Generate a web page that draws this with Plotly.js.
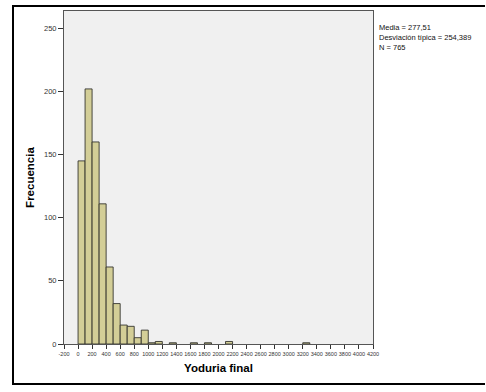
<!DOCTYPE html>
<html>
<head>
<meta charset="utf-8">
<script src="https://cdn.plot.ly/plotly-3.0.1.min.js"></script>
<style>
  html, body { margin: 0; padding: 0; background: #ffffff; }
  #wrap { position: relative; width: 486px; height: 392px; }
  #chart { width: 486px; height: 392px; }
  #frame {
    position: absolute; left: 12px; top: 5px; width: 471px; height: 376px;
    border-left: 2px solid #000; border-top: 2px solid #000; border-bottom: 2px solid #000;
    pointer-events: none;
  }
</style>
</head>
<body>
<div id="wrap">
  <div id="chart"></div>
  <div id="frame"></div>
</div>
<script>
// Histogram of final ioduria: bin lower edges (width 100) and counts
const binStarts = [0, 100, 200, 300, 400, 500, 600, 700, 800, 900, 1000, 1100, 1300, 1600, 1800, 2100, 3200];
const counts    = [145, 202, 160, 111, 61, 32, 15, 14, 5, 11, 1, 2, 1, 1, 1, 2, 1];
const binWidth = 100;

const xTicks = [-200, 0, 200, 400, 600, 800, 1000, 1200, 1400, 1600, 1800, 2000, 2200,
                2400, 2600, 2800, 3000, 3200, 3400, 3600, 3800, 4000, 4200];
const yTicks = [0, 50, 100, 150, 200, 250];

const statsLines = ["Media = 277,51", "Desviación típica = 254,389", "N = 765"];

const trace = {
  type: 'bar',
  x: binStarts,
  y: counts,
  width: binWidth,
  offset: 0,
  marker: {
    color: '#d3ce97',
    line: { color: 'rgba(45,45,40,0.85)', width: 1 }
  },
  hoverinfo: 'x+y'
};

// Summary statistics, one block to the right of the plot area
const annotations = [{
  text: statsLines.join('<br>'),
  xref: 'paper', yref: 'paper',
  x: 1.016, y: 0.92,
  xanchor: 'left', yanchor: 'middle', align: 'left',
  borderpad: 0,
  showarrow: false,
  font: { family: 'Liberation Sans, Arial, sans-serif', size: 7.5, color: '#111' }
}];

const layout = {
  width: 486, height: 392,
  margin: { l: 64, r: 113, t: 11, b: 48 },
  paper_bgcolor: '#ffffff',
  plot_bgcolor: '#f0f0f0',
  showlegend: false,
  bargap: 0,
  xaxis: {
    range: [-200, 4200],
    tickvals: xTicks,
    ticktext: xTicks.map(String),
    ticks: 'outside', ticklen: 4, tickcolor: '#333', tickwidth: 1,
    showgrid: false, zeroline: false,
    showline: true, linecolor: '#555', linewidth: 1, mirror: true,
    tickangle: 0,
    tickfont: { family: 'Liberation Sans, Arial, sans-serif', size: 5.5, color: '#333' },
    title: { text: '<b>Yoduria final</b>', standoff: 8,
             font: { family: 'Liberation Sans, Arial, sans-serif', size: 11.5, color: '#000' } }
  },
  yaxis: {
    range: [0, 263.7],
    tickvals: yTicks,
    ticks: 'outside', ticklen: 5, tickcolor: '#333', tickwidth: 1,
    showgrid: false, zeroline: false,
    showline: true, linecolor: '#555', linewidth: 1, mirror: true,
    tickfont: { family: 'Liberation Sans, Arial, sans-serif', size: 7.5, color: '#333' },
    title: { text: '<b>Frecuencia</b>', standoff: 6,
             font: { family: 'Liberation Sans, Arial, sans-serif', size: 11.5, color: '#000' } }
  },
  annotations: annotations
};

Plotly.newPlot('chart', [trace], layout, { displayModeBar: false, staticPlot: true });
</script>
</body>
</html>
